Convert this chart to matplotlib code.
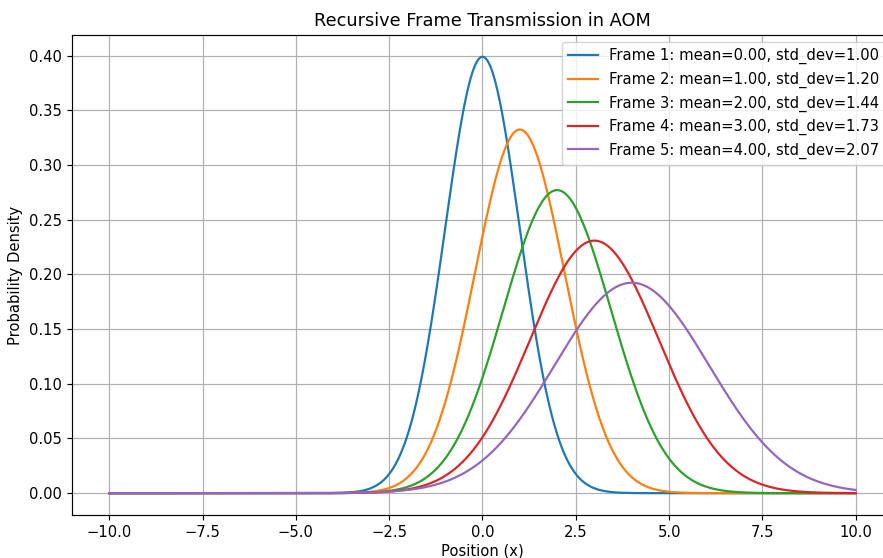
import numpy as np
import matplotlib
matplotlib.use("Agg")
import matplotlib.pyplot as plt

# frame parameters (from legend)
frames = [1, 2, 3, 4, 5]
means = [0.00, 1.00, 2.00, 3.00, 4.00]
std_devs = [1.00, 1.20, 1.44, 1.728, 2.0736]

x = np.linspace(-10, 10, 1000)

def gaussian(x, mu, sigma):
    return np.exp(-0.5 * ((x - mu) / sigma) ** 2) / (sigma * np.sqrt(2 * np.pi))

DPI = 106.3
fig = plt.figure(figsize=(884 / DPI, 558 / DPI), dpi=DPI)
ax = fig.add_axes([0.0814, 0.0771, 0.9288, 0.8602])

for f, mu, sd in zip(frames, means, std_devs):
    ax.plot(x, gaussian(x, mu, sd), linewidth=1.5,
            label=f"Frame {f}: mean={mu:.2f}, std_dev={sd:.2f}")

ax.set_title("Recursive Frame Transmission in AOM", fontsize=12)
ax.set_xlabel("Position (x)", labelpad=2)
ax.set_ylabel("Probability Density")
ax.set_xticks([-10.0, -7.5, -5.0, -2.5, 0.0, 2.5, 5.0, 7.5, 10.0])
ax.grid(True)
ax.legend(loc="upper right")

fig.savefig("out.png", dpi=DPI)
